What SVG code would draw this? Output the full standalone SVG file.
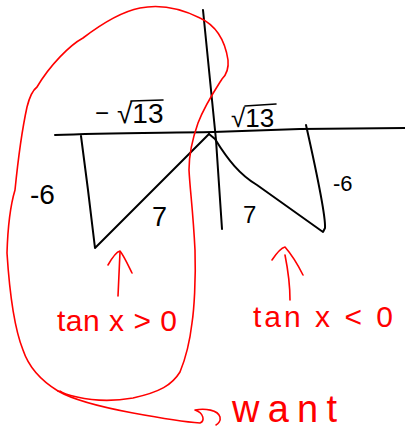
<svg xmlns="http://www.w3.org/2000/svg" width="405" height="430" viewBox="0 0 405 430">
<style>
.ink{fill:none;stroke:#000;stroke-width:2;stroke-linecap:round;stroke-linejoin:round}
.bar{fill:none;stroke:#000;stroke-width:1.6;stroke-linecap:round}
.red{fill:none;stroke:#ff0000;stroke-width:1.6;stroke-linecap:round;stroke-linejoin:round}
.bt{font-family:"Liberation Sans",Arial,sans-serif;fill:#000}
.rt{font-family:"Liberation Sans",Arial,sans-serif;fill:#ff0000}
</style>
<rect width="405" height="430" fill="#fff"/>
<g id="axes">
<path class="ink" d="M55,135 C 100,133 150,133 213,132 L 300,129 L 405,128"/>
<path class="ink" d="M203,10 L 210,80 L 216,140 L 222,229"/>
</g>
<g id="left-triangle">
<path class="ink" d="M81,136 L 88,190 L 95,248 L 143,200 L 170,173 L 209,134"/>
<text class="bt" x="30" y="204" font-size="28">-6</text>
<text class="bt" x="152" y="226" font-size="27">7</text>
<text class="bt" x="95" y="121" font-size="24">−</text>
<text class="bt" x="117" y="123" font-size="28">√13</text>
<path class="bar" d="M131,101 L 163,100"/>
</g>
<g id="right-triangle">
<path class="ink" d="M209,134 L 215,139 C 228,160 240,175 257,185 L 323,232 L 325,228 C 326,215 315,165 306,125"/>
<text class="bt" x="333" y="191" font-size="22">-6</text>
<text class="bt" x="243" y="223" font-size="24">7</text>
<text class="bt" x="231" y="127" font-size="26">√13</text>
<path class="bar" d="M245,106 L 276,104"/>
</g>
<g id="want-region">
<path class="red" d="M58,391 C 40,380 28,365 23,350 C 15,330 10,300 7,253 C 8,220 12,200 15,190 C 18,160 22,130 27,107 C 30,95 33,90 37,87 C 50,65 70,45 83,38 C 100,25 120,12 140,8 C 160,4 180,8 200,18 C 215,25 225,40 228,60 C 229,70 226,75 222,79 C 215,90 205,105 198,123 C 192,140 189,155 189,170 C 190,190 193,210 195,250 C 196,280 194,310 192,323 C 190,340 187,355 180,372 C 172,385 160,392 133,398 C 110,402 90,400 77,397 C 68,395 62,393 60,391"/>
<path class="red" d="M58,391 C 70,398 90,405 133,413 C 160,418 185,422 200,423 C 205,421 204,413 195,410 C 205,408 218,410 220,417 C 221,421 218,424 216,425"/>
</g>
<g id="labels">
<text class="rt" x="57" y="331" font-size="30" textLength="120" lengthAdjust="spacing">tan x &gt; 0</text>
<text class="rt" x="253" y="327" font-size="30" textLength="140" lengthAdjust="spacing">tan x &lt; 0</text>
<text class="rt" x="232" y="422" font-size="38" textLength="105" lengthAdjust="spacing">want</text>
</g>
<g id="connectors">
<path class="red" d="M118,296 L 120,252"/>
<path class="red" d="M108,265 C 112,258 116,252 120,251 C 124,256 128,265 132,273"/>
<path class="red" d="M290,300 C 290,285 288,270 285,255"/>
<path class="red" d="M272,260 C 276,254 281,248 285,247 C 292,255 298,265 303,275"/>
</g>
</svg>
